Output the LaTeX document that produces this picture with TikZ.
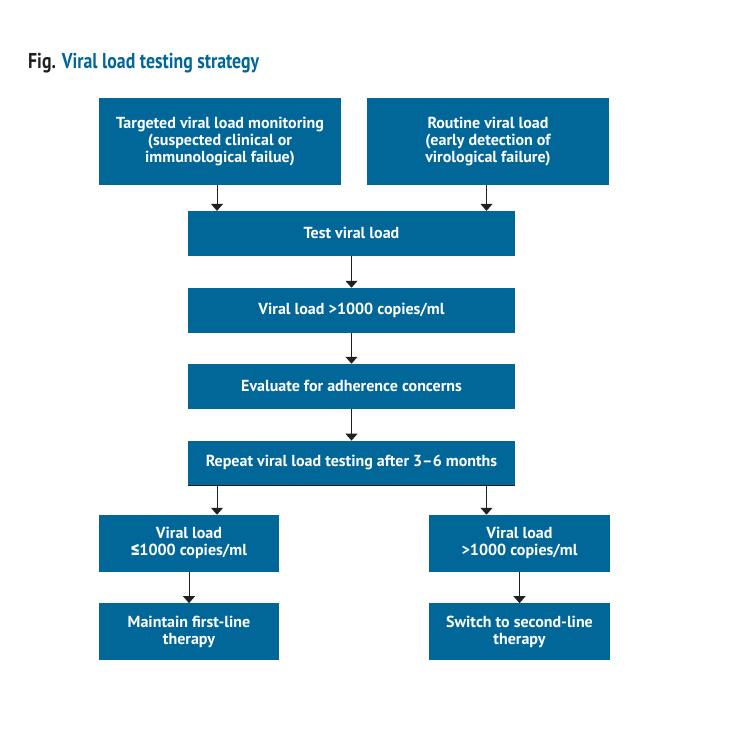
\documentclass[tikz,border=0pt]{standalone}
\usepackage{fontspec}
\setmainfont{PT Sans}
\newfontfamily\lefont{Fira Sans SemiBold}
\usetikzlibrary{arrows.meta}
\definecolor{boxblue}{RGB}{0,103,152}
\definecolor{linegray}{RGB}{35,31,32}
\begin{document}
\begin{tikzpicture}[x=1pt,y=-1pt,
  box/.style={fill=boxblue, draw=none, text=white, align=center, inner sep=0pt,
    font=\bfseries\fontsize{16}{17}\selectfont},
  arr/.style={draw=linegray, line width=0.9pt, -{Triangle[width=12pt,length=7pt]}}]
\useasboundingbox (0,0) rectangle (730,749);
\fill[white] (0,0) rectangle (730,749);
\node[anchor=base west, inner sep=0pt] (title) at (28,69)
  {\resizebox{231pt}{\height}{\bfseries\fontsize{21.5}{21.5}\selectfont\textcolor{linegray}{Fig.} \textcolor{boxblue}{Viral load testing strategy}}};
\node[box, minimum width=242pt, minimum height=87pt] (A) at (220,141.5)
  {Targeted viral load monitoring\\(suspected clinical or\\immunological failue)};
\node[box, minimum width=242pt, minimum height=87pt] (B) at (488,141.5)
  {Routine viral load\\(early detection of\\virological failure)};
\node[box, minimum width=327pt, minimum height=44.7pt] (T) at (351.5,233.4) {Test viral load};
\node[box, minimum width=327pt, minimum height=44.7pt] (V) at (351.5,310.3) {Viral load >1000 copies/ml};
\node[box, minimum width=327pt, minimum height=44.7pt] (E) at (351.5,386.3) {Evaluate for adherence concerns};
\node[box, minimum width=327pt, minimum height=44pt] (R) at (351.5,462.8) {Repeat viral load testing after 3–6 months};
\node[box, minimum width=180pt, minimum height=56.7pt] (L1) at (189,543.3) {Viral load\\{\lefont ≤}1000 copies/ml};
\node[box, minimum width=181pt, minimum height=56.7pt] (R1) at (519.5,543.3) {Viral load\\>1000 copies/ml};
\node[box, minimum width=180pt, minimum height=56.7pt] (L2) at (189,631.7) {Maintain first-line\\therapy};
\node[box, minimum width=181pt, minimum height=56.7pt] (R2) at (519.5,631.7) {Switch to second-line\\therapy};
\draw[arr] ([xshift=-3pt]A.south) -- ([xshift=-3pt]A.south |- T.north);
\draw[arr] ([xshift=-1.5pt]B.south) -- ([xshift=-1.5pt]B.south |- T.north);
\draw[arr] (T) -- (V);
\draw[arr] (V) -- (E);
\draw[arr] (E) -- (R);
\draw[draw=linegray, line width=0.6pt] (R.south west) -- (R.south east);
\draw[arr] ([xshift=28pt]L1.north |- R.south) -- ([xshift=28pt]L1.north);
\draw[arr] ([xshift=-33pt]R1.north |- R.south) -- ([xshift=-33pt]R1.north);
\draw[arr] (L1) -- (L2);
\draw[arr] (R1) -- (R2);
\end{tikzpicture}
\end{document}
